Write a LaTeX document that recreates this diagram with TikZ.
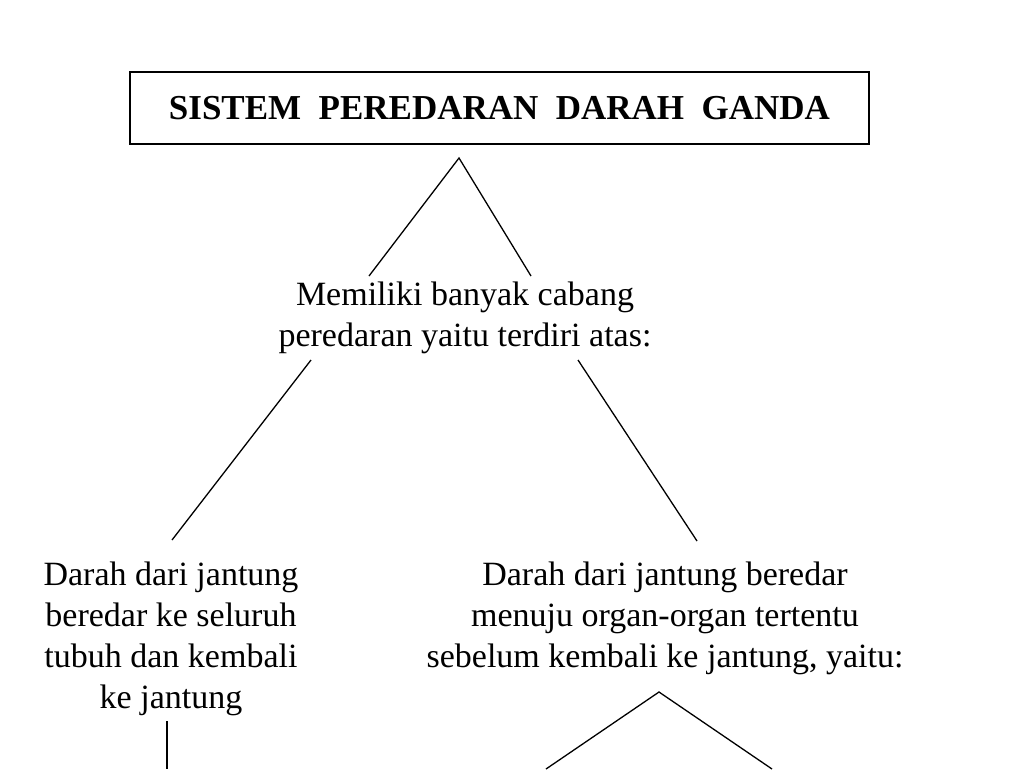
\documentclass[tikz,border=0pt]{standalone}
\usepackage{fontspec}
\setmainfont{Liberation Serif}
\tikzset{
  titlebox/.style={draw, line width=1.2pt, minimum width=739pt, minimum height=72pt, inner sep=0pt,
    font=\fontsize{35}{40}\selectfont\bfseries},
  branchtext/.style={align=center, inner sep=0pt, font=\fontsize{34}{41}\selectfont},
  branch/.style={line width=1.3pt}
}
\begin{document}
\begin{tikzpicture}[x=1pt, y=-1pt]
      \useasboundingbox (0,0) rectangle (1024,769);
      \node[titlebox] (title) at (499.5,108) {SISTEM\ \ PEREDARAN\ \ DARAH\ \ GANDA};
      \node[branchtext] (cabang) at (465,318) {Memiliki banyak cabang\\peredaran yaitu terdiri atas:};
      \node[branchtext] (seluruh) at (171,639) {Darah dari jantung\\beredar ke seluruh\\tubuh dan kembali\\ke jantung};
      \node[branchtext] (organ) at (665,618) {Darah dari jantung beredar\\menuju organ-organ tertentu\\sebelum kembali ke jantung, yaitu:};
      % ujung-ujung cabang
      \coordinate (p1) at (459,158);
      \coordinate (p2) at (369,276);
      \coordinate (p3) at (531,276);
      \coordinate (p4) at (311,360);
      \coordinate (p5) at (172,540);
      \coordinate (p6) at (578,360);
      \coordinate (p7) at (697,541);
      \coordinate (p8) at (167,721);
      \coordinate (p9) at (167,769);
      \coordinate (p10) at (659,692);
      \coordinate (p11) at (546,769);
      \coordinate (p12) at (772,769);
      \draw[branch] (p2) -- (p1) -- (p3);
      \draw[branch] (p4) -- (p5) (p6) -- (p7);
      \draw[branch] (p8) -- (p9);
      \draw[branch] (p11) -- (p10) -- (p12);
    \end{tikzpicture}
\end{document}
